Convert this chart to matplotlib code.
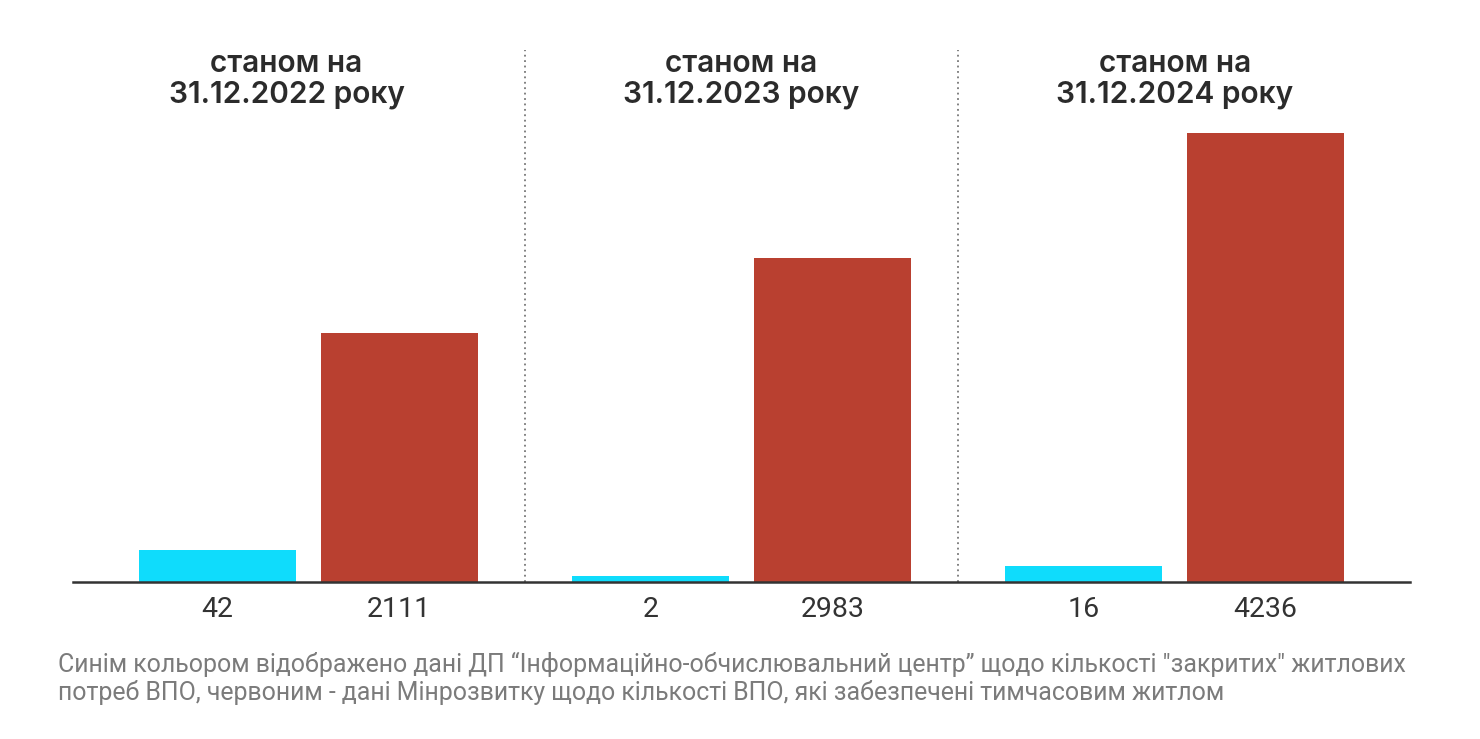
import numpy as np
import matplotlib.pyplot as plt

# Values shown under the bars
periods = ["31.12.2022", "31.12.2023", "31.12.2024"]
closed_needs = [42, 2, 16]          # blue: ДП "ІОЦ"
temp_housing = [2111, 2983, 4236]   # red: Мінрозвитку

# The infographic bars are not drawn to scale; heights
blue_heights = [32, 6, 16]
red_heights = [249, 324, 449]

BLUE = "#0fdcfc"
RED = "#b94030"

fig = plt.figure(figsize=(14.8, 7.39), dpi=100)
ax = fig.add_axes([73 / 1480, 1 - 582 / 739, (1410 - 73) / 1480, (582 - 40) / 739])

x = np.arange(len(periods))
w = 0.362
off = 0.21
ax.bar(x - off, blue_heights, width=w, color=BLUE, zorder=2)
ax.bar(x + off, red_heights, width=w, color=RED, zorder=2)

ax.set_xlim(-0.543, 2.543)
ax.set_ylim(0, 542)
for s in ["top", "right", "left"]:
    ax.spines[s].set_visible(False)
ax.spines["bottom"].set_color("#333333")
ax.spines["bottom"].set_linewidth(1.8)
ax.spines["bottom"].set_zorder(3)
ax.set_yticks([])

ax.set_xticks(list(x - off) + list(x + off))
ax.set_xticklabels([str(v) for v in closed_needs] + [str(v) for v in temp_housing],
                   fontsize=20.5, color="#333333", family="Roboto")
ax.tick_params(axis="x", length=0, pad=10)

# dotted dividers between periods
for d in [0.5, 1.5]:
    ax.axvline(d, ymin=0, ymax=(582 - 50) / 542, color="#777777",
               linestyle=(0, (1, 2)), linewidth=1.3, zorder=1)

# period headers
header_shift = [-0.05, 0, 0]
for i, p in enumerate(periods):
    ax.text(x[i] + header_shift[i], 1 - 10 / 542, "станом на\n" + p + " року",
            transform=ax.get_xaxis_transform(), ha="center", va="top",
            fontsize=21.5, fontweight="semibold", family="Inter",
            color="#2b2b2b", linespacing=1.1)

caption = ("Синім кольором відображено дані ДП “Інформаційно-обчислювальний центр” щодо кількості \"закритих\" житлових\n"
           "потреб ВПО, червоним - дані Мінрозвитку щодо кількості ВПО, які забезпечені тимчасовим житлом")
fig.text(58 / 1480, 1 - 652 / 739, caption, ha="left", va="top",
         fontsize=17.9, color="#7b7b7b", family="Roboto", linespacing=1.12)

fig.savefig("out.png", dpi=100, facecolor="white")
